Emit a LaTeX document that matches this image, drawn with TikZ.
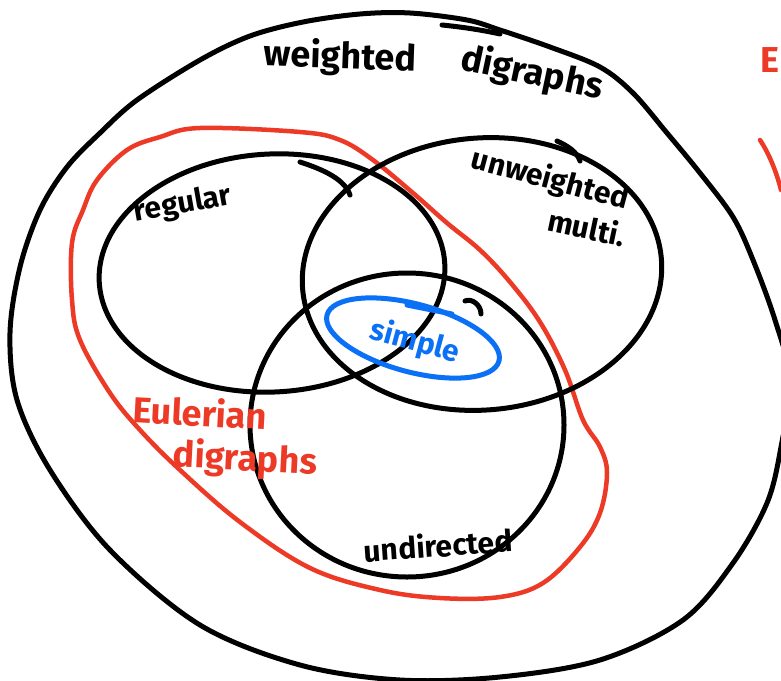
\documentclass[tikz,border=0pt]{standalone}
\usepackage{fontspec}
\setmainfont{Fira Sans}
\definecolor{penred}{RGB}{236,58,38}
\definecolor{penblue}{RGB}{10,112,245}
\tikzset{
  blackpen/.style={draw=black, line width=5pt, line cap=round, line join=round},
  redpen/.style={draw=penred, line width=4.5pt, line cap=round, line join=round},
  bluepen/.style={draw=penblue, line width=5pt, line cap=round, line join=round},
  hand/.style={font=\bfseries\fontsize{30}{32}\selectfont, inner sep=0pt},
  bighand/.style={font=\bfseries\fontsize{36}{38}\selectfont, inner sep=0pt},
}
\begin{document}
\begin{tikzpicture}[x=1pt,y=-1pt]
\useasboundingbox (0,0) rectangle (781,680);
\clip (0,0) rectangle (781,680);
\fill[white] (0,0) rectangle (781,680);
% outer: weighted digraphs
\draw[blackpen] plot[smooth cycle, tension=0.55] coordinates {
 (10,333) (20,267) (40,210) (67,167) (100,133) (137,100) (200,60) (250,36) (303,22)
 (360,14) (410,13) (467,20) (500,30) (550,47) (600,67) (633,93) (667,133) (700,173)
 (733,217) (753,260) (775,320) (790,380) (781,447) (767,503)
 (733,563) (683,620) (600,660) (500,677) (400,680) (300,665) (200,625) (110,550)
 (50,470) (17,400)};
\draw[blackpen] (442,25) .. controls (462,27) and (482,30) .. (500,34);
% Eulerian digraphs (red)
\draw[redpen] plot[smooth cycle, tension=0.6] coordinates {
 (300,132) (340,140) (373,160) (413,193) (447,223) (480,250) (510,282) (540,322)
 (565,370) (583,420) (600,447) (607,473) (600,513) (580,547) (543,583) (500,597)
 (440,598) (380,590) (310,568) (240,522) (180,470) (140,430) (110,393) (80,340)
 (72,300) (72,243) (83,210) (97,180) (127,150) (160,137) (200,128)};
% regular
\draw[blackpen, rotate around={3:(272,273)}] (272,273) ellipse [x radius=173pt, y radius=119pt];
\draw[blackpen] (300,162) .. controls (325,170) and (345,180) .. (350,195);
% unweighted multi
\draw[blackpen, rotate around={5:(482,274)}] (482,274) ellipse [x radius=180pt, y radius=136pt];
\draw[blackpen] (557,141) .. controls (568,146) and (577,152) .. (580,161);
% undirected
\draw[blackpen] (407,425) ellipse [x radius=157pt, y radius=152pt];
\draw[blackpen] (465,301) .. controls (472,298) and (481,305) .. (481,314);
% simple (blue)
\draw[bluepen, rotate around={-15:(413,338)}] (413,338) ellipse [x radius=89pt, y radius=34pt];
\draw[bluepen] (407,305) -- (452,314);
% texts
\node[bighand, rotate=-2] (wt) at (340,58) {weighted};
\node[bighand, rotate=-12] (dg) at (532,74) {digraphs};
\node[hand, rotate=10] (rg) at (183,205) {regular};
\node[hand, rotate=-15] (uw) at (550,180) {unweighted};
\node[hand, rotate=-12] (mu) at (587,227) {multi.};
\node[hand, text=penblue, rotate=-15] (si) at (415,342) {simple};
\node[bighand, text=penred, rotate=-3] (eu) at (200,412) {Eulerian};
\node[bighand, text=penred, rotate=-3] (ed) at (245,460) {digraphs};
\node[hand, rotate=4] (un) at (438,545) {undirected};
\node[bighand, text=penred, anchor=west] (ee) at (760,60) {E};
\draw[redpen] (760,140) .. controls (768,152) and (776,170) .. (781,190);
\end{tikzpicture}
\end{document}
